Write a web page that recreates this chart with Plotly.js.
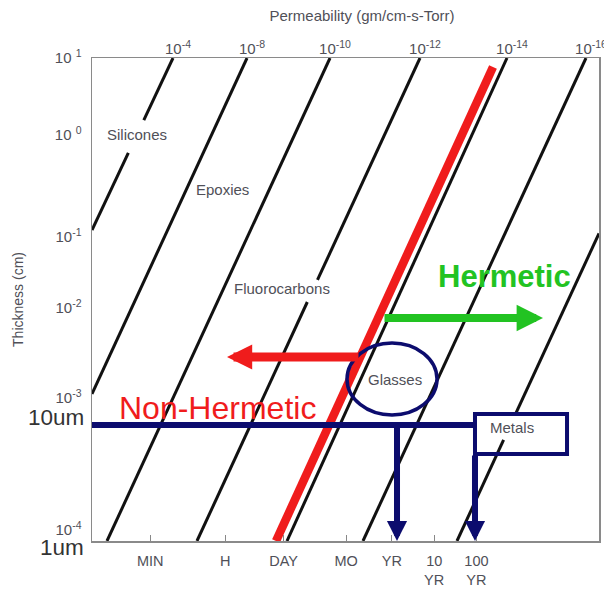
<!DOCTYPE html>
<html><head><meta charset="utf-8">
<script src="https://cdn.plot.ly/plotly-3.0.1.min.js"></script>
<style>html,body{margin:0;padding:0;background:#fff}#chart{width:604px;height:596px}</style>
</head><body><div id="chart"></div>
<script>
// ---- values: time (s) on x, thickness (cm) on y ----
const lineA_t = [207.5, 42.3, null, 18.2, 2.51];
const lineA_h = [10, 2.28, null, 1.04, 0.1656];
const lineB_t = [11720, 2.51];
const lineB_h = [10, 0.003327];
const lineC_t = [1.079e6, 5.69];
const lineC_h = [10, 1e-4];
const lineD_t = [1.456e8, 5.458e5, null, 3.133e5, 767];
const lineD_h = [10, 0.0504, null, 0.02979, 1e-4];
const lineE_t = [1.668e10, 1.035e5];
const lineE_h = [10, 1e-4];
const lineF_t = [1.236e12, 6.516e6];
const lineF_h = [10, 1e-4];
const lineG_t = [2.512e12, 2.667e10, null, 1.387e10, 1.094e9];
const lineG_h = [0.1528, 0.002065, null, 0.001111, 1e-4];
const hermeticLine_t = [7.78e9, 5.69e4];
const hermeticLine_h = [8.07, 1e-4];
const thk10um_t = [2.512, 2.917e9];
const thk10um_h = [0.001589, 0.001589];

// arrows: [tail_t, tail_h, tip_t, tip_h]
const redArrow = [5.53e6, 0.00803, 3936, 0.00803];
const greenArrow = [1.94e7, 0.02034, 1.188e11, 0.02034];
const navyArrow1 = [4.16e7, 0.001589, 4.16e7, 1e-4];
const navyArrow2 = [2.917e9, 0.000796, 2.917e9, 1e-4];

// enclosures: [t0, t1, h0, h1]
const glassesEllipse = [2.728e6, 3.681e8, 0.002015, 0.01122];
const metalsBox = [2.917e9, 4.395e11, 0.000796, 0.002065];

// labels
const labelText = ['Silicones', 'Epoxies', 'Fluorocarbons', 'Glasses', 'Metals'];
const labelT = [29.2, 3000, 7.89e4, 3.733e7, 2.193e10];
const labelH = [1.596, 0.4305, 0.04064, 0.004753, 0.001514];

// axes ticks
const timeTickVals = [60, 3600, 86400, 2.592e6, 3.156e7, 3.156e8, 3.156e9];
const timeTickText = ['MIN', 'H', 'DAY', 'MO', 'YR', '10<br>YR', '100<br>YR'];
const permTickVals = [207.5, 11720, 1.079e6, 1.456e8, 1.668e10, 1.236e12];
const permTickText = ['10<sup>-4</sup>', '10<sup>-8</sup>', '10<sup>-10</sup>', '10<sup>-12</sup>', '10<sup>-14</sup>', '10<sup>-16</sup>'];
const thkTickVals = [10, 1.596, 0.1403, 0.02582, 0.00302, 0.00013];
const thkTickText = ['10 <sup>1</sup>', '10 <sup>0</sup>', '10<sup>-1</sup>', '10<sup>-2</sup>', '10<sup>-3</sup>', '10<sup>-4</sup>'];

const FONT = '"Liberation Sans", Arial, sans-serif';
const GRAY = '#505058';
const NAVY = '#0c0c6e';
const RED = '#f01c1c';
const GREEN = '#22c322';

function lineTrace(x, y, color, width) {
  return {x: x, y: y, mode: 'lines', line: {color: color, width: width}, connectgaps: false,
          hoverinfo: 'skip', showlegend: false, xaxis: 'x', yaxis: 'y'};
}
const traces = [
  lineTrace(lineA_t, lineA_h, '#111', 3),
  lineTrace(lineB_t, lineB_h, '#111', 3),
  lineTrace(lineC_t, lineC_h, '#111', 3),
  lineTrace(lineD_t, lineD_h, '#111', 3),
  lineTrace(lineE_t, lineE_h, '#111', 3),
  lineTrace(lineF_t, lineF_h, '#111', 3),
  lineTrace(lineG_t, lineG_h, '#111', 3),
  lineTrace(hermeticLine_t, hermeticLine_h, RED, 8.5),
  lineTrace(thk10um_t, thk10um_h, NAVY, 6),
  {x: permTickVals, y: permTickVals.map(() => 10), mode: 'markers', marker: {opacity: 0},
   hoverinfo: 'skip', showlegend: false, xaxis: 'x2', yaxis: 'y'}
];

const L = Math.log10;
function arrowAnn(a, color, w, size) {
  return {xref: 'x', yref: 'y', axref: 'x', ayref: 'y', x: L(a[2]), y: L(a[3]), ax: L(a[0]), ay: L(a[1]),
          text: '', showarrow: true, arrowhead: 2, arrowsize: size, arrowwidth: w, arrowcolor: color, standoff: 0};
}
const annotations = [
  arrowAnn(redArrow, RED, 9, 0.56),
  arrowAnn(greenArrow, GREEN, 8, 0.66),
  arrowAnn(navyArrow1, NAVY, 6, 0.67),
  arrowAnn(navyArrow2, NAVY, 6, 0.67)
];
labelText.forEach((t, i) => annotations.push({
  xref: 'x', yref: 'y', x: L(labelT[i]), y: L(labelH[i]), text: t, showarrow: false,
  xanchor: 'center', yanchor: 'middle', font: {family: FONT, size: 15, color: GRAY}
}));
annotations.push({xref: 'x', yref: 'y', x: L(1.496e10), y: L(0.05408), text: '<b>Hermetic</b>', showarrow: false,
  xanchor: 'center', yanchor: 'middle', font: {family: FONT, size: 31, color: GREEN}});
annotations.push({xref: 'x', yref: 'y', x: L(2410), y: L(0.002382), text: 'Non-Hermetic', showarrow: false,
  xanchor: 'center', yanchor: 'middle', font: {family: FONT, size: 32, color: RED}});
annotations.push({xref: 'paper', yref: 'paper', x: -0.012, y: 0.2547, text: '10um', showarrow: false,
  xanchor: 'right', yanchor: 'middle', font: {family: FONT, size: 22.5, color: '#333'}});
annotations.push({xref: 'paper', yref: 'paper', x: -0.012, y: -0.014, text: '1um', showarrow: false,
  xanchor: 'right', yanchor: 'middle', font: {family: FONT, size: 22.5, color: '#333'}});

const shapes = [
  {type: 'circle', xref: 'x', yref: 'y', x0: glassesEllipse[0], x1: glassesEllipse[1],
   y0: glassesEllipse[2], y1: glassesEllipse[3], line: {color: NAVY, width: 3.5}},
  {type: 'rect', xref: 'x', yref: 'y', x0: metalsBox[0], x1: metalsBox[1],
   y0: metalsBox[2], y1: metalsBox[3], line: {color: NAVY, width: 4}}
];

const layout = {
  width: 604, height: 596,
  margin: {l: 92, r: 5, t: 58, b: 55},
  paper_bgcolor: '#fff', plot_bgcolor: '#fff',
  font: {family: FONT, size: 14, color: GRAY},
  title: {text: 'Permeability (gm/cm-s-Torr)', x: 362 / 604, xref: 'container', xanchor: 'center',
          y: 1 - 16 / 596, yref: 'container', yanchor: 'middle', font: {family: FONT, size: 15, color: GRAY}},
  xaxis: {type: 'log', range: [0.4, 12.4], tickvals: timeTickVals, ticktext: timeTickText,
          ticks: 'inside', ticklen: 6, tickwidth: 1, tickcolor: '#888', showline: true, linecolor: '#8a8a8a',
          linewidth: 1.5, mirror: true, showgrid: false, zeroline: false, ticklabelstandoff: 6,
          tickfont: {size: 14.5, color: GRAY}},
  xaxis2: {type: 'log', range: [0.4, 12.4], overlaying: 'x', side: 'top', anchor: 'y', tickvals: permTickVals,
           ticktext: permTickText, ticks: '', showgrid: false, showline: false, zeroline: false,
           ticklabelshift: 5, ticklabeloverflow: 'allow', tickfont: {size: 15, color: GRAY}},
  yaxis: {type: 'log', range: [-4, 1], tickvals: thkTickVals, ticktext: thkTickText, ticks: '',
          showline: true, linecolor: '#8a8a8a', linewidth: 1.5, mirror: true, showgrid: false, zeroline: false,
          ticklabelstandoff: 6, tickfont: {size: 15, color: GRAY},
          title: {text: 'Thickness (cm)', standoff: 28, font: {size: 14, color: GRAY}}},
  annotations: annotations,
  shapes: shapes
};

Plotly.newPlot('chart', traces, layout, {staticPlot: true, displayModeBar: false});
</script></body></html>
